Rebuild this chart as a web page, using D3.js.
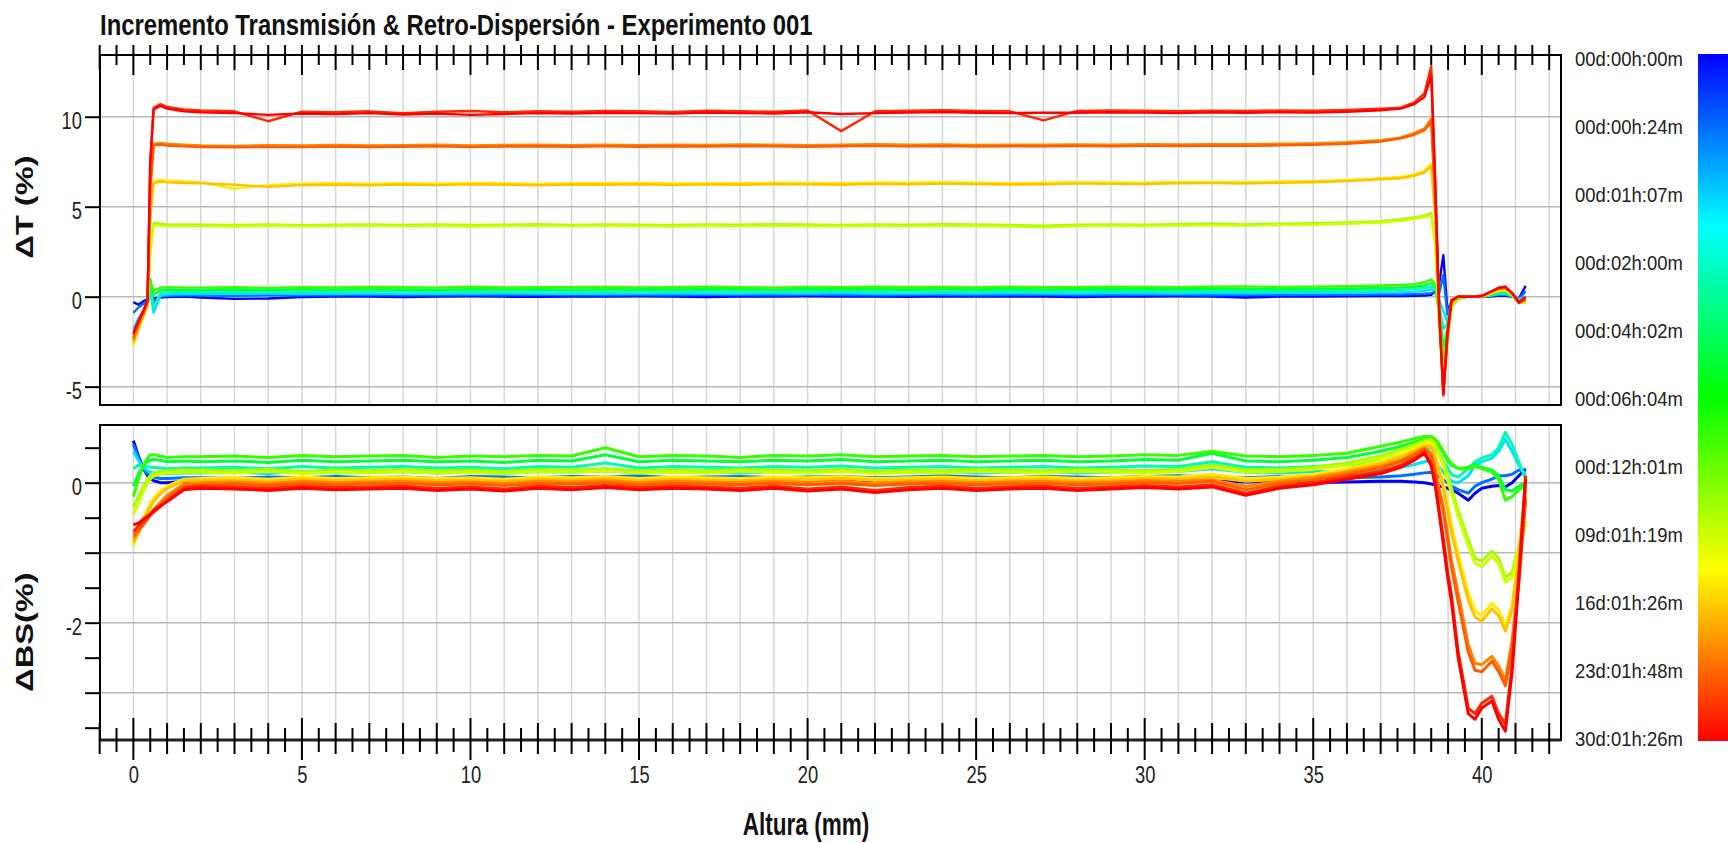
<!DOCTYPE html>
<html>
<head>
<meta charset="utf-8">
<script src="https://cdn.jsdelivr.net/npm/d3@7"></script>
<style>
  body { margin: 0; background: #fff; }
  svg { display: block; }
  text { font-family: "Liberation Sans", Arial, sans-serif; fill: #111; }
</style>
</head>
<body>
<svg id="chart" width="1728" height="843"></svg>
<script>
// heights (mm) at which each scan was read, split in three pieces
var heightsLeft = [0, 0.15, 0.3, 0.42, 0.5, 0.6, 0.8, 1, 1.5];
var heightsMid = [2, 3, 4, 5, 6, 7, 8, 9, 10, 11, 12, 13, 14, 15, 16, 17, 18, 19,
                  20, 21, 22, 23, 24, 25, 26, 27, 28, 29, 30, 31, 32, 33, 34, 35, 36, 37];
var heightsRight = [37.6, 38, 38.3, 38.5, 38.62, 38.74, 38.86, 38.98, 39.1, 39.3,
                    39.6, 39.8, 40, 40.3, 40.5, 40.7, 40.9, 41.1, 41.3];

// position of each drawn scan on the time scale (0 = first, 1 = last)
var scanPos = [0, 0.11, 0.22, 0.33, 0.44, 0.55, 0.66, 0.70, 0.77, 0.81, 0.87, 0.91, 0.96, 1.0];

var timeLabels = ["00d:00h:00m", "00d:00h:24m", "00d:01h:07m", "00d:02h:00m", "00d:04h:02m",
                  "00d:06h:04m", "00d:12h:01m", "09d:01h:19m", "16d:01h:26m", "23d:01h:48m", "30d:01h:26m"];

var dTTicks = [-5, 0, 5, 10];
var dBSTicks = [-3.5, -3, -2.5, -2, -1.5, -1, -0.5, 0, 0.5];
var dBSLabels = [-2, 0];
var xLabels = [0, 5, 10, 15, 20, 25, 30, 35, 40];

// ---- Delta T (%) ----
var dTLeft = [
  [-0.3, -0.45, -0.25, -0.15, 0.1, -0.1, -0.05, -0.02, 0.0],
  [-0.9, -0.6, -0.4, -0.2, 0.2, -0.3, 0.0, 0.05, 0.06],
  [-1.8, -1.2, -0.75, -0.4, 0.4, -0.9, 0.05, 0.12, 0.15],
  [-2.3, -1.6, -1.0, -0.5, 0.7, -0.6, 0.2, 0.25, 0.27],
  [-2.5, -1.7, -1.05, -0.5, 1.0, 0.1, 0.35, 0.38, 0.38],
  [-2.4, -1.6, -1.0, -0.45, 0.8, 0.35, 0.5, 0.52, 0.5],
  [-2.6, -1.8, -1.1, -0.45, 2.5, 4.1, 4.05, 4.0, 4.02],
  [-2.5, -1.75, -1.05, -0.4, 2.4, 4.0, 3.95, 3.93, 3.93],
  [-2.7, -1.85, -1.1, -0.4, 4.5, 6.4, 6.5, 6.45, 6.4],
  [-2.6, -1.8, -1.05, -0.35, 4.4, 6.3, 6.4, 6.35, 6.32],
  [-2.4, -1.6, -0.95, -0.3, 6.0, 8.5, 8.55, 8.5, 8.45],
  [-2.3, -1.55, -0.9, -0.3, 5.9, 8.4, 8.45, 8.4, 8.35],
  [-2.1, -1.4, -0.8, -0.25, 7.5, 10.5, 10.7, 10.55, 10.4],
  [-2.0, -1.35, -0.75, -0.2, 7.4, 10.4, 10.6, 10.45, 10.3]
];
var dTMid = [
  [-0.05, -0.12, -0.1, -0.02, 0.0, 0.01, -0.02, 0.0, 0.02, 0.0, -0.01, 0.01,
   0.0, 0.02, 0.0, -0.02, 0.01, 0.0, 0.02, 0.01, 0.0, -0.01, 0.02, 0.0,
   0.01, 0.0, -0.02, 0.0, 0.01, 0.02, 0.0, -0.05, 0.01, 0.0, 0.02, 0.03],
  [0.06, 0.05, 0.07, 0.08, 0.07, 0.09, 0.08, 0.07, 0.09, 0.08, 0.1, 0.08,
   0.07, 0.09, 0.08, 0.1, 0.09, 0.08, 0.1, 0.09, 0.08, 0.09, 0.1, 0.08,
   0.09, 0.1, 0.08, 0.09, 0.1, 0.09, 0.08, 0.1, 0.09, 0.11, 0.1, 0.12],
  [0.15, 0.16, 0.17, 0.15, 0.18, 0.17, 0.16, 0.18, 0.17, 0.19, 0.17, 0.16,
   0.18, 0.17, 0.19, 0.18, 0.17, 0.19, 0.18, 0.2, 0.18, 0.17, 0.19, 0.18,
   0.2, 0.19, 0.18, 0.2, 0.19, 0.18, 0.2, 0.19, 0.21, 0.2, 0.22, 0.24],
  [0.27, 0.26, 0.28, 0.27, 0.29, 0.28, 0.3, 0.28, 0.29, 0.27, 0.3, 0.29,
   0.28, 0.3, 0.29, 0.31, 0.29, 0.28, 0.3, 0.31, 0.29, 0.3, 0.28, 0.31,
   0.3, 0.29, 0.31, 0.3, 0.32, 0.3, 0.31, 0.3, 0.32, 0.31, 0.33, 0.36],
  [0.38, 0.4, 0.37, 0.41, 0.39, 0.42, 0.4, 0.38, 0.41, 0.4, 0.42, 0.39,
   0.41, 0.43, 0.4, 0.42, 0.41, 0.39, 0.42, 0.41, 0.43, 0.4, 0.42, 0.41,
   0.43, 0.4, 0.42, 0.41, 0.43, 0.42, 0.44, 0.42, 0.43, 0.45, 0.44, 0.48],
  [0.5, 0.52, 0.49, 0.53, 0.51, 0.54, 0.52, 0.5, 0.55, 0.51, 0.53, 0.52,
   0.54, 0.51, 0.53, 0.55, 0.52, 0.5, 0.54, 0.53, 0.55, 0.52, 0.54, 0.51,
   0.55, 0.53, 0.52, 0.56, 0.54, 0.53, 0.55, 0.57, 0.54, 0.56, 0.58, 0.62],
  [4.0, 3.98, 4.02, 3.97, 4.0, 4.01, 3.99, 4.02, 3.98, 4.0, 4.03, 3.99,
   4.01, 4.0, 3.98, 4.02, 4.0, 4.03, 4.01, 3.99, 4.02, 4.0, 4.03, 4.01,
   3.98, 3.95, 4.0, 4.02, 4.0, 4.03, 4.05, 4.02, 4.06, 4.08, 4.12, 4.2],
  [3.92, 3.9, 3.94, 3.91, 3.93, 3.95, 3.92, 3.94, 3.9, 3.93, 3.95, 3.92,
   3.94, 3.93, 3.9, 3.94, 3.92, 3.95, 3.93, 3.91, 3.94, 3.92, 3.95, 3.93,
   3.9, 3.86, 3.92, 3.94, 3.93, 3.95, 3.97, 3.95, 3.98, 4.0, 4.05, 4.12],
  [6.35, 6.0, 6.2, 6.28, 6.3, 6.26, 6.3, 6.28, 6.32, 6.3, 6.27, 6.31,
   6.3, 6.33, 6.29, 6.31, 6.3, 6.34, 6.32, 6.3, 6.35, 6.33, 6.36, 6.34,
   6.3, 6.33, 6.36, 6.35, 6.34, 6.37, 6.38, 6.36, 6.4, 6.42, 6.48, 6.58],
  [6.3, 6.22, 6.1, 6.2, 6.22, 6.19, 6.23, 6.2, 6.24, 6.22, 6.19, 6.23,
   6.22, 6.25, 6.2, 6.24, 6.22, 6.26, 6.24, 6.22, 6.27, 6.25, 6.28, 6.26,
   6.23, 6.25, 6.28, 6.27, 6.26, 6.3, 6.31, 6.29, 6.33, 6.36, 6.42, 6.52],
  [8.4, 8.38, 8.42, 8.4, 8.43, 8.41, 8.42, 8.44, 8.4, 8.43, 8.45, 8.42,
   8.44, 8.42, 8.45, 8.43, 8.46, 8.44, 8.42, 8.45, 8.47, 8.44, 8.46, 8.43,
   8.45, 8.44, 8.46, 8.45, 8.47, 8.46, 8.48, 8.47, 8.5, 8.52, 8.58, 8.7],
  [8.32, 8.3, 8.33, 8.31, 8.34, 8.32, 8.33, 8.35, 8.31, 8.34, 8.36, 8.33,
   8.35, 8.33, 8.36, 8.34, 8.37, 8.35, 8.33, 8.36, 8.38, 8.35, 8.37, 8.34,
   8.36, 8.35, 8.37, 8.36, 8.38, 8.37, 8.39, 8.38, 8.41, 8.44, 8.5, 8.62],
  [10.35, 10.3, 9.75, 10.28, 10.25, 10.3, 10.2, 10.28, 10.32, 10.25, 10.3, 10.28,
   10.32, 10.3, 10.27, 10.33, 10.3, 10.28, 10.35, 9.2, 10.3, 10.33, 10.36, 10.32,
   10.3, 9.8, 10.32, 10.35, 10.33, 10.3, 10.34, 10.32, 10.35, 10.33, 10.38, 10.45],
  [10.25, 10.2, 10.1, 10.18, 10.15, 10.2, 10.12, 10.18, 10.1, 10.15, 10.2, 10.18,
   10.22, 10.2, 10.17, 10.23, 10.2, 10.18, 10.25, 10.15, 10.2, 10.23, 10.26, 10.22,
   10.2, 10.22, 10.22, 10.25, 10.23, 10.2, 10.24, 10.22, 10.25, 10.23, 10.28, 10.36]
];
var dTRight = [
  [0.04, 0.05, 0.06, 0.1, 0.3, 0.8, 2.3, -0.8, -0.3, 0.0, 0.0, 0.0, 0.0, 0.02, 0.05, 0.05, 0.0, -0.1, 0.6],
  [0.12, 0.14, 0.16, 0.2, 0.3, 0.2, 1.2, -1.0, -0.3, 0.0, 0.0, 0.0, 0.0, 0.05, 0.1, 0.1, 0.02, -0.12, 0.3],
  [0.25, 0.28, 0.32, 0.4, 0.4, -0.2, -0.8, -1.4, -0.4, -0.05, 0.0, 0.0, 0.0, 0.08, 0.15, 0.15, 0.05, -0.15, 0.0],
  [0.38, 0.42, 0.48, 0.55, 0.5, -0.5, -1.8, -1.5, -0.5, -0.1, 0.0, 0.0, 0.0, 0.1, 0.2, 0.2, 0.05, -0.2, -0.2],
  [0.5, 0.55, 0.62, 0.75, 0.6, -0.8, -2.8, -1.8, -0.5, -0.1, 0.0, 0.0, 0.0, 0.12, 0.25, 0.25, 0.08, -0.25, -0.3],
  [0.65, 0.7, 0.8, 0.95, 0.7, -1.2, -3.5, -2.2, -0.6, -0.1, 0.0, 0.0, 0.0, 0.15, 0.3, 0.3, 0.1, -0.3, -0.35],
  [4.3, 4.4, 4.5, 4.65, 3.0, -1.5, -4.5, -2.6, -0.6, -0.05, 0.0, 0.0, 0.0, 0.2, 0.35, 0.35, 0.1, -0.3, -0.3],
  [4.22, 4.32, 4.42, 4.55, 2.8, -1.7, -4.6, -2.5, -0.5, -0.05, 0.0, 0.0, 0.0, 0.2, 0.32, 0.35, 0.1, -0.3, -0.35],
  [6.65, 6.8, 7.0, 7.4, 4.5, -1.0, -5.0, -2.5, -0.4, 0.0, 0.0, 0.0, 0.0, 0.25, 0.4, 0.45, 0.15, -0.3, -0.3],
  [6.58, 6.72, 6.9, 7.25, 4.3, -1.2, -5.1, -2.4, -0.4, 0.0, 0.0, 0.0, 0.0, 0.25, 0.4, 0.42, 0.15, -0.3, -0.25],
  [8.85, 9.1, 9.35, 9.9, 5.5, -0.8, -5.3, -2.3, -0.3, 0.0, 0.0, 0.0, 0.02, 0.3, 0.45, 0.5, 0.2, -0.3, -0.2],
  [8.8, 9.0, 9.25, 9.7, 5.3, -1.0, -5.4, -2.2, -0.3, 0.0, 0.0, 0.0, 0.02, 0.3, 0.45, 0.48, 0.2, -0.3, -0.15],
  [10.5, 10.8, 11.3, 12.8, 6.5, -0.8, -5.5, -2.0, -0.2, 0.0, 0.0, 0.0, 0.05, 0.3, 0.5, 0.55, 0.2, -0.35, -0.1],
  [10.45, 10.7, 11.1, 12.3, 6.2, -1.0, -5.4, -2.1, -0.2, 0.0, 0.0, 0.0, 0.05, 0.3, 0.48, 0.55, 0.2, -0.32, 0.0]
];

// ---- Delta BS (%) ----
var dBSLeft = [
  [0.6, 0.38, 0.2, 0.1, 0.06, 0.03, 0.0, 0.0, 0.02],
  [0.55, 0.35, 0.2, 0.12, 0.1, 0.08, 0.06, 0.06, 0.07],
  [0.45, 0.32, 0.22, 0.17, 0.15, 0.14, 0.13, 0.13, 0.14],
  [0.2, 0.25, 0.24, 0.23, 0.22, 0.22, 0.21, 0.2, 0.21],
  [-0.05, 0.12, 0.25, 0.3, 0.32, 0.33, 0.32, 0.3, 0.31],
  [-0.2, 0.05, 0.25, 0.35, 0.4, 0.4, 0.38, 0.36, 0.37],
  [-0.35, -0.2, -0.05, 0.05, 0.1, 0.14, 0.16, 0.17, 0.18],
  [-0.45, -0.3, -0.12, 0.0, 0.05, 0.1, 0.12, 0.14, 0.15],
  [-0.9, -0.7, -0.5, -0.38, -0.3, -0.22, -0.12, -0.05, 0.05],
  [-0.85, -0.72, -0.55, -0.42, -0.35, -0.27, -0.16, -0.08, 0.03],
  [-0.8, -0.7, -0.58, -0.5, -0.45, -0.38, -0.28, -0.18, -0.02],
  [-0.75, -0.68, -0.6, -0.52, -0.47, -0.42, -0.32, -0.22, -0.05],
  [-0.7, -0.62, -0.55, -0.5, -0.46, -0.42, -0.34, -0.26, -0.08],
  [-0.6, -0.58, -0.52, -0.48, -0.45, -0.4, -0.33, -0.27, -0.1]
];
var dBSMid = [
  [0.02, 0.0, 0.03, 0.01, 0.02, 0.0, 0.03, 0.01, 0.02, 0.04, 0.01, 0.02,
   0.03, 0.0, 0.02, 0.01, 0.03, 0.02, 0.0, 0.02, 0.01, 0.03, 0.02, 0.0,
   0.02, 0.01, 0.03, 0.02, 0.0, 0.03, 0.02, 0.01, 0.02, 0.0, 0.01, 0.02],
  [0.07, 0.06, 0.08, 0.07, 0.09, 0.07, 0.08, 0.06, 0.09, 0.08, 0.07, 0.09,
   0.08, 0.1, 0.07, 0.08, 0.09, 0.07, 0.08, 0.09, 0.07, 0.08, 0.1, 0.08,
   0.07, 0.09, 0.08, 0.07, 0.09, 0.1, 0.08, 0.07, 0.09, 0.08, 0.07, 0.08],
  [0.14, 0.15, 0.13, 0.16, 0.14, 0.15, 0.16, 0.14, 0.15, 0.13, 0.16, 0.15,
   0.17, 0.14, 0.16, 0.15, 0.14, 0.16, 0.15, 0.17, 0.14, 0.15, 0.16, 0.14,
   0.15, 0.16, 0.14, 0.15, 0.17, 0.16, 0.2, 0.15, 0.14, 0.16, 0.15, 0.18],
  [0.21, 0.22, 0.2, 0.23, 0.21, 0.22, 0.23, 0.21, 0.22, 0.2, 0.23, 0.22,
   0.28, 0.21, 0.23, 0.22, 0.21, 0.23, 0.22, 0.24, 0.21, 0.22, 0.23, 0.21,
   0.22, 0.23, 0.21, 0.22, 0.24, 0.23, 0.3, 0.22, 0.21, 0.23, 0.25, 0.3],
  [0.3, 0.31, 0.29, 0.32, 0.3, 0.31, 0.32, 0.3, 0.31, 0.29, 0.32, 0.31,
   0.4, 0.3, 0.32, 0.31, 0.3, 0.32, 0.31, 0.33, 0.3, 0.31, 0.32, 0.3,
   0.31, 0.32, 0.3, 0.31, 0.33, 0.32, 0.42, 0.31, 0.3, 0.32, 0.36, 0.45],
  [0.37, 0.38, 0.36, 0.39, 0.37, 0.38, 0.39, 0.36, 0.38, 0.37, 0.39, 0.38,
   0.5, 0.37, 0.39, 0.38, 0.36, 0.39, 0.38, 0.4, 0.37, 0.38, 0.39, 0.37,
   0.38, 0.39, 0.37, 0.38, 0.4, 0.39, 0.45, 0.38, 0.37, 0.39, 0.42, 0.52],
  [0.18, 0.17, 0.19, 0.16, 0.18, 0.17, 0.19, 0.17, 0.18, 0.16, 0.19, 0.18,
   0.2, 0.17, 0.18, 0.17, 0.19, 0.18, 0.17, 0.19, 0.16, 0.18, 0.17, 0.19,
   0.18, 0.17, 0.19, 0.18, 0.17, 0.19, 0.25, 0.18, 0.19, 0.22, 0.28, 0.38],
  [0.15, 0.14, 0.16, 0.13, 0.15, 0.14, 0.16, 0.14, 0.15, 0.13, 0.16, 0.15,
   0.17, 0.14, 0.15, 0.14, 0.16, 0.15, 0.14, 0.16, 0.13, 0.15, 0.14, 0.16,
   0.15, 0.14, 0.16, 0.15, 0.14, 0.16, 0.22, 0.15, 0.16, 0.19, 0.25, 0.35],
  [0.06, 0.07, 0.05, 0.08, 0.06, 0.07, 0.08, 0.06, 0.07, 0.05, 0.08, 0.07,
   0.09, 0.06, 0.08, 0.07, 0.06, 0.08, 0.07, 0.09, 0.06, 0.07, 0.08, 0.06,
   0.07, 0.08, 0.06, 0.07, 0.09, 0.08, 0.12, 0.06, 0.08, 0.12, 0.2, 0.3],
  [0.03, 0.04, 0.02, 0.05, 0.03, 0.04, 0.05, 0.03, 0.04, 0.02, 0.05, 0.04,
   0.06, 0.03, 0.05, 0.04, 0.03, 0.05, 0.04, 0.06, 0.03, 0.04, 0.05, 0.03,
   0.04, 0.05, 0.03, 0.04, 0.06, 0.05, 0.08, 0.02, 0.05, 0.09, 0.17, 0.27],
  [0.0, 0.01, -0.01, 0.02, 0.0, 0.01, 0.02, 0.0, 0.01, -0.01, 0.02, 0.01,
   0.03, 0.0, 0.02, 0.01, 0.0, 0.02, 0.0, 0.02, -0.01, 0.01, 0.02, 0.0,
   0.01, 0.02, 0.0, 0.01, 0.03, 0.02, 0.04, -0.05, 0.02, 0.07, 0.15, 0.24],
  [-0.03, -0.02, -0.04, -0.01, -0.03, -0.02, -0.01, -0.03, -0.02, -0.04, -0.01, -0.02,
   0.0, -0.03, -0.01, -0.02, -0.03, -0.01, -0.03, -0.01, -0.04, -0.02, -0.01, -0.03,
   -0.02, -0.01, -0.03, -0.02, 0.0, -0.01, 0.02, -0.1, -0.01, 0.04, 0.12, 0.21],
  [-0.05, -0.06, -0.08, -0.05, -0.07, -0.06, -0.05, -0.08, -0.06, -0.09, -0.05, -0.07,
   -0.04, -0.07, -0.05, -0.06, -0.08, -0.05, -0.09, -0.06, -0.11, -0.07, -0.05, -0.08,
   -0.06, -0.05, -0.08, -0.06, -0.04, -0.06, -0.03, -0.15, -0.05, 0.0, 0.08, 0.16],
  [-0.08, -0.09, -0.11, -0.08, -0.1, -0.09, -0.08, -0.11, -0.09, -0.12, -0.08, -0.1,
   -0.07, -0.1, -0.08, -0.09, -0.11, -0.08, -0.12, -0.09, -0.14, -0.1, -0.08, -0.11,
   -0.09, -0.08, -0.11, -0.09, -0.07, -0.09, -0.06, -0.18, -0.08, -0.03, 0.05, 0.13]
];
var dBSRight = [
  [0.02, 0.01, 0.0, -0.02, -0.03, -0.05, -0.06, -0.08, -0.1, -0.15, -0.25, -0.15, -0.08, -0.05, -0.04, -0.06, 0.0, 0.1, 0.2],
  [0.1, 0.12, 0.14, 0.15, 0.12, 0.08, 0.04, 0.0, -0.05, -0.1, -0.15, -0.05, 0.0, 0.05, 0.1, 0.1, 0.12, 0.18, 0.15],
  [0.22, 0.26, 0.3, 0.32, 0.28, 0.22, 0.15, 0.08, 0.02, 0.0, 0.1, 0.25, 0.3, 0.35, 0.45, 0.62, 0.45, 0.25, 0.1],
  [0.35, 0.42, 0.48, 0.5, 0.46, 0.4, 0.3, 0.22, 0.12, 0.08, 0.2, 0.3, 0.35, 0.4, 0.5, 0.72, 0.55, 0.3, 0.05],
  [0.52, 0.58, 0.62, 0.64, 0.6, 0.52, 0.42, 0.32, 0.25, 0.2, 0.22, 0.26, 0.22, 0.18, 0.1, -0.1, -0.12, -0.05, 0.0],
  [0.58, 0.63, 0.66, 0.66, 0.62, 0.55, 0.45, 0.35, 0.28, 0.2, 0.2, 0.23, 0.2, 0.15, 0.05, -0.25, -0.2, -0.1, -0.05],
  [0.48, 0.55, 0.6, 0.62, 0.55, 0.42, 0.3, 0.12, -0.08, -0.4, -0.82, -1.08, -1.12, -0.98, -1.08, -1.35, -1.28, -0.9, -0.55],
  [0.45, 0.52, 0.58, 0.6, 0.52, 0.38, 0.25, 0.05, -0.15, -0.48, -0.9, -1.15, -1.2, -1.05, -1.15, -1.42, -1.35, -0.95, -0.6],
  [0.4, 0.48, 0.55, 0.55, 0.38, 0.2, 0.0, -0.28, -0.6, -1.02, -1.58, -1.83, -1.9, -1.72, -1.82, -2.05, -1.75, -0.98, -0.05],
  [0.37, 0.45, 0.52, 0.52, 0.35, 0.15, -0.08, -0.38, -0.7, -1.12, -1.68, -1.92, -1.98, -1.8, -1.9, -2.12, -1.82, -1.05, -0.1],
  [0.32, 0.42, 0.5, 0.42, 0.2, -0.1, -0.35, -0.72, -1.1, -1.58, -2.32, -2.58, -2.6, -2.48, -2.62, -2.82, -2.25, -1.35, -0.2],
  [0.3, 0.4, 0.48, 0.38, 0.15, -0.15, -0.42, -0.8, -1.2, -1.7, -2.42, -2.68, -2.7, -2.55, -2.7, -2.9, -2.35, -1.42, -0.25],
  [0.25, 0.35, 0.44, 0.28, 0.0, -0.4, -0.8, -1.25, -1.6, -2.42, -3.22, -3.3, -3.15, -3.05, -3.3, -3.45, -2.6, -1.3, 0.1],
  [0.22, 0.32, 0.42, 0.24, -0.05, -0.45, -0.88, -1.32, -1.7, -2.5, -3.3, -3.38, -3.22, -3.12, -3.38, -3.55, -2.7, -1.38, 0.05]
];

var heights = heightsLeft.concat(heightsMid, heightsRight);
function joinRows(left, mid, right) {
  return left.map(function(l, i) { return l.concat(mid[i], right[i]); });
}
var dTScans = joinRows(dTLeft, dTMid, dTRight),
    dBSScans = joinRows(dBSLeft, dBSMid, dBSRight);

// scan colour: blue for the first scan through to red for the last
function scanColor(f) { return d3.hsl(240 * (1 - f), 1, 0.5).toString(); }

var svg = d3.select("#chart");
var plotLeft = 100, plotRight = 1561;
var topPanel = {top: 55, bottom: 405},
    botPanel = {top: 425, bottom: 740};

var x = d3.scaleLinear().domain([-0.99, 42.35]).range([plotLeft, plotRight]);
var yT = d3.scaleLinear().domain([-6.02, 13.43]).range([topPanel.bottom, topPanel.top]);
var yB = d3.scaleLinear().domain([-3.676, 0.824]).range([botPanel.bottom, botPanel.top]);

var defs = svg.append("defs");

function drawPanel(panel, y, hGrid, scans, id, lineWidth) {
  var g = svg.append("g");

  // grid
  g.selectAll(".vgrid").data(d3.range(0, 43)).enter().append("line")
    .attr("x1", function(d) { return x(d); }).attr("x2", function(d) { return x(d); })
    .attr("y1", panel.top).attr("y2", panel.bottom)
    .attr("stroke", "#d6d6d6").attr("stroke-width", 1.5);
  g.selectAll(".hgrid").data(hGrid).enter().append("line")
    .attr("x1", plotLeft).attr("x2", plotRight)
    .attr("y1", function(d) { return y(d); }).attr("y2", function(d) { return y(d); })
    .attr("stroke", "#b8b8b8").attr("stroke-width", 1.5);

  defs.append("clipPath").attr("id", id)
    .append("rect")
      .attr("x", plotLeft).attr("y", panel.top)
      .attr("width", plotRight - plotLeft).attr("height", panel.bottom - panel.top);

  var line = d3.line()
    .x(function(d, i) { return x(heights[i]); })
    .y(function(d) { return y(d); });

  g.append("g").attr("clip-path", "url(#" + id + ")")
    .selectAll("path").data(scans).enter().append("path")
      .attr("d", line)
      .attr("fill", "none")
      .attr("stroke", function(d, i) { return scanColor(scanPos[i]); })
      .attr("stroke-width", lineWidth)
      .attr("stroke-linejoin", "round");

  // frame
  g.append("rect")
    .attr("x", plotLeft).attr("y", panel.top)
    .attr("width", plotRight - plotLeft).attr("height", panel.bottom - panel.top)
    .attr("fill", "none").attr("stroke", "#000").attr("stroke-width", 2);
  return g;
}

drawPanel(topPanel, yT, dTTicks, dTScans, "clipT", 2.4);
drawPanel(botPanel, yB, [-3, -2, -1, 0], dBSScans, "clipB", 3);

// y axes
function styleYAxis(ax) {
  ax.select(".domain").remove();
  ax.selectAll(".tick line").attr("stroke", "#000").attr("stroke-width", 2);
  ax.selectAll(".tick text")
    .attr("x", null).attr("dy", null)
    .attr("transform", "translate(-18,12) scale(0.75,1)")
    .style("font-size", "24.5px").style("fill", "#222");
}
var axT = svg.append("g").attr("transform", "translate(" + plotLeft + ",0)")
  .call(d3.axisLeft(yT).tickValues(dTTicks).tickSize(15).tickFormat(function(d) { return String(d); }));
styleYAxis(axT);
var axB = svg.append("g").attr("transform", "translate(" + plotLeft + ",0)")
  .call(d3.axisLeft(yB).tickValues(dBSTicks).tickSize(15)
    .tickFormat(function(d) { return dBSLabels.indexOf(d) >= 0 ? String(d) : ""; }));
styleYAxis(axB);

// x ticks on top edge of the upper panel and on the bottom axis
var xTickVals = d3.range(-2, 85).map(function(k) { return k / 2; });
function tickKind(v) { return v % 5 === 0 ? 2 : (v % 1 === 0 ? 1 : 0); }
var topLen = [10, 15, 20], botUp = [12, 17, 22], botDown = [12, 14, 20];

svg.append("g").selectAll("line").data(xTickVals).enter().append("line")
  .attr("x1", function(d) { return x(d); }).attr("x2", function(d) { return x(d); })
  .attr("y1", topPanel.top - 10)
  .attr("y2", function(d) { return topPanel.top + topLen[tickKind(d)]; })
  .attr("stroke", "#000").attr("stroke-width", 2);

svg.append("line")
  .attr("x1", plotLeft).attr("x2", plotRight)
  .attr("y1", botPanel.bottom).attr("y2", botPanel.bottom)
  .attr("stroke", "#222").attr("stroke-width", 3);
svg.append("g").selectAll("line").data(xTickVals).enter().append("line")
  .attr("x1", function(d) { return x(d); }).attr("x2", function(d) { return x(d); })
  .attr("y1", function(d) { return botPanel.bottom - botUp[tickKind(d)]; })
  .attr("y2", function(d) { return botPanel.bottom + botDown[tickKind(d)]; })
  .attr("stroke", "#000").attr("stroke-width", 2);

var axX = svg.append("g").attr("transform", "translate(0," + botPanel.bottom + ")")
  .call(d3.axisBottom(x).tickValues(xLabels).tickSize(0).tickFormat(function(d) { return String(d); }));
axX.select(".domain").remove();
axX.selectAll(".tick text")
  .attr("y", null).attr("dy", null)
  .attr("transform", "translate(0,43) scale(0.75,1)")
  .style("font-size", "24.5px").style("fill", "#222");

// titles
svg.append("text")
  .attr("transform", "translate(100,35) scale(0.81,1)")
  .style("font-size", "29.5px").style("font-weight", "bold")
  .text("Incremento Transmisión & Retro-Dispersión - Experimento 001");

svg.append("text")
  .attr("transform", "translate(806,835) scale(0.74,1)")
  .attr("text-anchor", "middle")
  .style("font-size", "30.5px").style("font-weight", "bold")
  .text("Altura (mm)");

svg.append("text")
  .attr("transform", "translate(33,207) rotate(-90) scale(1.33,1)")
  .attr("text-anchor", "middle")
  .style("font-size", "24.5px").style("font-weight", "bold")
  .text("ΔT (%)");

svg.append("text")
  .attr("transform", "translate(33,632) rotate(-90) scale(1.33,1)")
  .attr("text-anchor", "middle")
  .style("font-size", "24.5px").style("font-weight", "bold")
  .text("ΔBS(%)");

// colour bar with scan times
var barTop = 54, barBottom = 741;
var grad = defs.append("linearGradient").attr("id", "timeGrad")
  .attr("x1", 0).attr("y1", 0).attr("x2", 0).attr("y2", 1);
grad.selectAll("stop").data(d3.range(0, 13)).enter().append("stop")
  .attr("offset", function(d) { return d / 12; })
  .attr("stop-color", function(d) { return scanColor(d / 12); });
svg.append("rect")
  .attr("x", 1698).attr("y", barTop)
  .attr("width", 40).attr("height", barBottom - barTop)
  .attr("fill", "url(#timeGrad)");

var labelY = d3.scaleLinear().domain([0, timeLabels.length - 1]).range([58, 738]);
svg.append("g").selectAll("text").data(timeLabels).enter().append("text")
  .attr("transform", function(d, i) { return "translate(1575," + (labelY(i) + 7.5) + ") scale(0.88,1)"; })
  .style("font-size", "21px").style("fill", "#222")
  .text(function(d) { return d; });
</script>
</body>
</html>
